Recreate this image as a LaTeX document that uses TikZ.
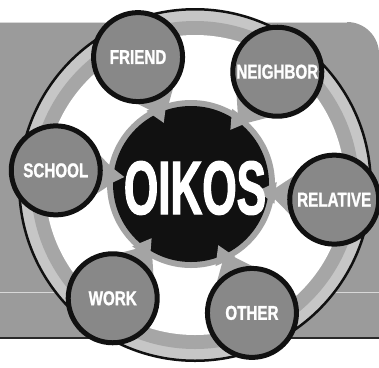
\documentclass[tikz,border=0pt]{standalone}
\usepackage{fontspec}
\newfontfamily\nodefont{Liberation Sans}[FakeStretch=0.76,FakeBold=1.2]
\newfontfamily\oikosfont{Liberation Sans}[FakeStretch=0.58,FakeBold=1.5]
\definecolor{bggray}{HTML}{9B9B9B}
\definecolor{lightband}{HTML}{C6C6C6}
\definecolor{midband}{HTML}{A6A6A6}
\definecolor{ringgray}{HTML}{A4A4A4}
\definecolor{nodefill}{HTML}{888888}
\definecolor{blackc}{HTML}{111111}
\definecolor{linegray}{HTML}{D8D8D8}
\begin{document}
\begin{tikzpicture}[x=1pt,y=1pt,
  onode/.style={circle,draw=blackc,line width=5pt,fill=nodefill,minimum size=89pt,inner sep=0pt,
    text=white,font=\nodefont\bfseries\fontsize{20}{20}\selectfont}]
\useasboundingbox (0,0) rectangle (379,-367);
% background panel
\fill[bggray] (0,-22) -- (347,-22) arc[start angle=90,end angle=0,radius=32] -- (379,-338) -- (0,-338) -- cycle;
\draw[linegray, line width=1pt] (0,-22.5) -- (347,-22.5);
\draw[linegray, line width=1pt] (0,-292) -- (379,-292);
\draw[blackc!90, line width=1.5pt] (0,-338) -- (379,-338);
% rings
\coordinate (c) at (195,-185);
\coordinate (k) at (191,-184);
\filldraw[fill=lightband,draw=blackc,line width=2.5pt] (c) circle[radius=175.75];
\fill[midband] (c) circle[radius=164];
\fill[white] (c) circle[radius=150];
% wedges from the outer circles
\foreach \a in {114,54,-6,-66,-126,174} {
  \begin{scope}[shift={(c)},rotate=\a]
    \fill[ringgray] (80,-5) -- (120,-38) -- (145,0) -- (120,38) -- (80,5) -- cycle;
  \end{scope}
}
% centre
\fill[ringgray] (k) circle[radius=84];
\fill[blackc] (k) circle[radius=78];
\foreach \a in {114,54,-6,-66,-126,174} {
  \begin{scope}[shift={(k)},rotate=\a]
    \fill[ringgray] (85,-11) -- (67,0) -- (85,11) -- cycle;
  \end{scope}
}
\node[text=white,inner sep=0pt,font=\oikosfont\bfseries\fontsize{76}{76}\selectfont] (oikos) at (195,-188) {OIKOS};
% outer nodes
\node[onode] (friend)   at ([shift={(114:140)}]c) {FRIEND};
\node[onode] (neighbor) at ([shift={(54:140)}]c) {NEIGHBOR};
\node[onode] (relative) at ([shift={(-6:140)}]c) {RELATIVE};
\node[onode] (other)    at ([shift={(-66:140)}]c) {OTHER};
\node[onode] (work)     at ([shift={(-126:140)}]c) {WORK};
\node[onode] (school)   at ([shift={(174:140)}]c) {SCHOOL};
\end{tikzpicture}
\end{document}
